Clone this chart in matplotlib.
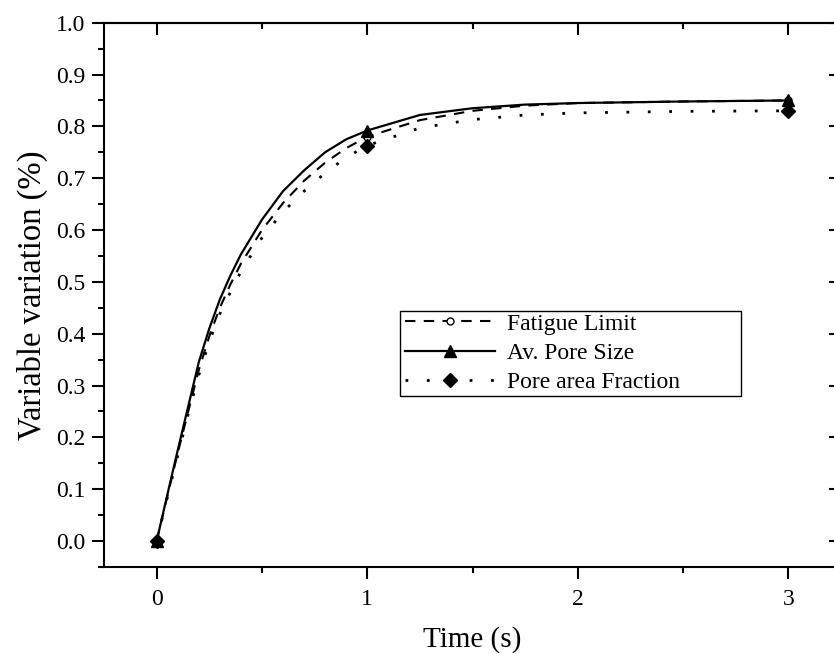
#!/usr/bin/env python3
# -*- coding: utf-8 -*-
"""
Variable variation vs time, three smoothed curves with markers at t = 0, 1, 3 s
"""

import numpy as np
import matplotlib
matplotlib.use('Agg')
import matplotlib.pyplot as plt
from matplotlib.ticker import MultipleLocator
from matplotlib.patches import Rectangle

# Values
time = [0.0, 0.05, 0.1, 0.15, 0.2, 0.25, 0.3, 0.35, 0.4, 0.5, 0.6, 0.7, 0.8, 0.9, 1.0,
        1.25, 1.5, 1.75, 2.0, 2.5, 3.0]

fatigue_limit = [0.0, 0.085, 0.17, 0.25, 0.33, 0.395, 0.45, 0.495, 0.535, 0.60, 0.652,
                 0.695, 0.73, 0.758, 0.78, 0.812, 0.830, 0.840, 0.845, 0.848, 0.85]
av_pore_size = [0.0, 0.088, 0.175, 0.26, 0.345, 0.41, 0.466, 0.512, 0.553, 0.62, 0.675,
                0.715, 0.75, 0.775, 0.792, 0.822, 0.835, 0.842, 0.845, 0.848, 0.85]
pore_area_fraction = [0.0, 0.083, 0.165, 0.245, 0.32, 0.385, 0.438, 0.48, 0.52, 0.585, 0.635,
                      0.675, 0.71, 0.74, 0.763, 0.797, 0.813, 0.822, 0.826, 0.829, 0.83]

# time points that carry a marker
marker_times = [0.0, 1.0, 3.0]

labels = ['Fatigue Limit', 'Av. Pore Size', 'Pore area Fraction']


def setAxes(ax):
    """ Origin like frame: outward ticks left/bottom, inward right/top """
    ax.set_xlim(-0.25, 3.25)
    ax.set_ylim(-0.05, 1.0)

    ax.xaxis.set_major_locator(MultipleLocator(1))
    ax.xaxis.set_minor_locator(MultipleLocator(0.5))
    ax.yaxis.set_major_locator(MultipleLocator(0.1))
    ax.yaxis.set_minor_locator(MultipleLocator(0.05))
    ax.yaxis.set_major_formatter(plt.FormatStrFormatter('%.1f'))

    for s in ax.spines.values():
        s.set_linewidth(1.5)

    ax.tick_params(which='both', direction='out', width=1.5, labelsize=17,
                   top=False, right=False, pad=5)
    ax.tick_params(axis='x', which='both', pad=7)
    ax.tick_params(which='major', length=8.5)
    ax.tick_params(which='minor', length=4.5)

    # inward ticks on the top and right side, no labels
    sec_x = ax.secondary_xaxis('top')
    sec_x.xaxis.set_major_locator(MultipleLocator(1))
    sec_x.xaxis.set_minor_locator(MultipleLocator(0.5))
    sec_x.tick_params(which='both', direction='in', width=1.5, labeltop=False)
    sec_x.tick_params(which='major', length=8.5)
    sec_x.tick_params(which='minor', length=4.5)
    sec_x.spines['top'].set_linewidth(1.5)

    sec_y = ax.secondary_yaxis('right')
    sec_y.yaxis.set_major_locator(MultipleLocator(0.1))
    sec_y.yaxis.set_minor_locator(MultipleLocator(0.05))
    sec_y.tick_params(which='both', direction='in', width=1.5, labelright=False)
    sec_y.tick_params(which='major', length=8.5)
    sec_y.tick_params(which='minor', length=4.5)
    sec_y.spines['right'].set_linewidth(1.5)

    ax.set_xlabel('Time (s)', fontsize=21, labelpad=12)
    ax.set_ylabel('Variable variation (%)', fontsize=23.5, labelpad=6)
    return


def main():
    plt.rcParams['font.family'] = ['Liberation Serif', 'DejaVu Serif']

    fig = plt.figure(figsize=(8.34, 6.54), dpi=100)
    ax = fig.add_axes([0.1247, 0.1330, 0.8837, 0.8323])

    idx = [time.index(t) for t in marker_times]

    ax.plot(time, fatigue_limit, color='k', lw=1.5, ls=(0, (5, 4)),
            marker='o', markevery=idx, ms=5, mfc='white', mec='k', mew=1.0,
            label=labels[0])
    ax.plot(time, av_pore_size, color='k', lw=1.6, ls='-',
            marker='^', markevery=idx, ms=8, mfc='k', mec='k',
            label=labels[1])
    ax.plot(time, pore_area_fraction, color='k', lw=2.0, ls=(0, (1, 6.7)),
            marker='D', markevery=idx, ms=7, mfc='k', mec='k',
            label=labels[2])

    setAxes(ax)

    # legend box is wider than its content (Origin style), so draw the frame apart
    frame = Rectangle((0.4016, 0.3142), 0.4627, 0.1561, transform=ax.transAxes,
                      facecolor='white', edgecolor='k', lw=1.0, zorder=4.9)
    ax.add_patch(frame)
    ax.legend(loc='upper left', bbox_to_anchor=(0.4084, 0.4665), fontsize=17,
              frameon=False, handlelength=3.8, handletextpad=0.5,
              labelspacing=0.33, borderpad=0, borderaxespad=0, numpoints=1)

    fig.savefig('out.png', dpi=100)


if __name__ == "__main__":
    main()
